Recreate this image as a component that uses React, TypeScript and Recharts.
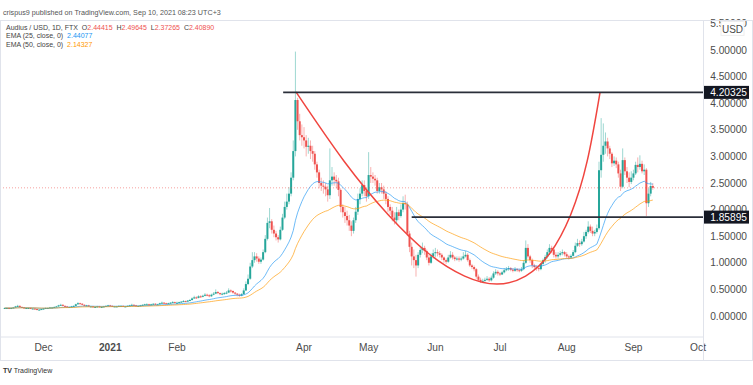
import React from 'react';
import { ComposedChart, Bar, Line, XAxis, YAxis, ReferenceLine } from 'recharts';

// Day index counted from 2020-11-10 (day 0). First candle: 2020-11-13.
const FIRST_DAY = 3;
const FIRST_OPEN = 0.15;

const closeNov = [0.15,0.15,0.14,0.15,0.16,0.18,0.19,0.17,0.16,0.15,0.15,0.15,0.14,0.14,0.13,0.12,0.12,0.13];
const highNov = [0.16,0.16,0.16,0.16,0.17,0.19,0.21,0.2,0.18,0.17,0.16,0.16,0.16,0.15,0.15,0.14,0.13,0.14];
const lowNov = [0.14,0.14,0.13,0.13,0.14,0.15,0.17,0.16,0.15,0.14,0.14,0.14,0.13,0.13,0.12,0.11,0.11,0.12];

const closeDec = [0.14,0.15,0.15,0.16,0.16,0.17,0.18,0.2,0.21,0.19,0.18,0.17,0.17,0.18,0.19,0.22,0.24,0.23,0.21,0.19,0.2,0.18,0.18,0.17,0.17,0.18,0.17,0.17,0.18,0.19,0.2];
const highDec = [0.15,0.16,0.16,0.17,0.17,0.18,0.19,0.21,0.23,0.22,0.2,0.19,0.18,0.19,0.2,0.23,0.26,0.25,0.24,0.22,0.21,0.21,0.19,0.19,0.18,0.19,0.19,0.18,0.19,0.2,0.21];
const lowDec = [0.12,0.13,0.14,0.15,0.15,0.16,0.16,0.17,0.19,0.18,0.17,0.16,0.16,0.16,0.17,0.18,0.21,0.22,0.2,0.18,0.18,0.17,0.17,0.16,0.16,0.16,0.16,0.16,0.16,0.17,0.18];

const closeJan = [0.19,0.18,0.18,0.18,0.19,0.19,0.18,0.18,0.19,0.2,0.21,0.2,0.19,0.19,0.2,0.21,0.22,0.22,0.21,0.22,0.23,0.22,0.22,0.24,0.25,0.24,0.23,0.24,0.25,0.26,0.25];
const highJan = [0.21,0.2,0.19,0.19,0.2,0.2,0.2,0.19,0.2,0.21,0.23,0.22,0.21,0.2,0.21,0.22,0.23,0.24,0.23,0.23,0.24,0.24,0.23,0.25,0.27,0.26,0.25,0.25,0.26,0.28,0.27];
const lowJan = [0.18,0.17,0.17,0.17,0.17,0.18,0.17,0.17,0.17,0.18,0.19,0.19,0.18,0.18,0.18,0.19,0.2,0.21,0.2,0.2,0.21,0.21,0.21,0.21,0.23,0.23,0.22,0.22,0.23,0.24,0.24];

const closeFeb = [0.25,0.26,0.27,0.28,0.27,0.29,0.3,0.33,0.35,0.34,0.37,0.36,0.38,0.4,0.39,0.37,0.4,0.42,0.45,0.43,0.41,0.42,0.43,0.44,0.48,0.47,0.44,0.42];
const highFeb = [0.27,0.27,0.28,0.3,0.29,0.3,0.32,0.35,0.38,0.37,0.39,0.39,0.4,0.43,0.42,0.41,0.42,0.45,0.5,0.47,0.44,0.44,0.45,0.47,0.52,0.5,0.48,0.45];
const lowFeb = [0.23,0.24,0.25,0.26,0.26,0.26,0.28,0.29,0.32,0.32,0.33,0.34,0.35,0.37,0.37,0.35,0.36,0.39,0.41,0.41,0.39,0.39,0.4,0.41,0.43,0.44,0.42,0.39];

const closeMar = [0.4,0.38,0.41,0.48,0.6,0.7,0.93,1.05,1.12,1.08,1.02,1.06,1.2,1.45,1.75,1.78,1.62,1.55,1.48,1.44,1.62,1.85,2.05,2.15,2.3,2.6,3.1,4.06,3.66,3.4,3.36];
const highMar = [0.43,0.42,0.43,0.52,0.65,0.78,1.0,1.2,1.2,1.18,1.12,1.1,1.25,1.52,1.85,2.03,1.82,1.7,1.6,1.52,1.68,1.92,2.15,2.3,2.42,2.7,3.3,4.97,4.1,3.8,3.6];
const lowMar = [0.37,0.36,0.37,0.4,0.47,0.58,0.68,0.9,1.0,1.02,0.98,0.98,1.04,1.18,1.42,1.65,1.55,1.48,1.42,1.38,1.42,1.6,1.82,2.0,2.1,2.25,2.55,3.0,3.5,3.3,3.2];

const closeApr = [3.3,3.18,3.2,3.1,3.05,2.85,2.7,2.5,2.45,2.43,2.38,2.27,2.55,2.62,2.56,2.53,2.37,2.05,1.95,1.88,1.8,1.7,1.6,1.8,1.96,2.2,2.3,2.46,2.35,2.25];
const highApr = [3.55,3.4,3.35,3.3,3.2,3.1,2.9,2.75,2.6,2.55,2.5,2.45,3.15,2.8,2.7,2.65,2.6,2.4,2.1,2.05,1.98,1.9,1.78,1.85,2.05,2.3,2.4,2.55,2.55,2.4];
const lowApr = [3.15,3.0,3.05,2.95,2.9,2.75,2.6,2.4,2.35,2.3,2.25,2.15,2.2,2.45,2.45,2.4,2.25,1.95,1.85,1.75,1.7,1.6,1.5,1.55,1.75,1.9,2.1,2.25,2.25,2.15];

const closeMay = [2.65,2.62,2.58,2.55,2.35,2.42,2.38,2.3,2.2,2.05,1.98,1.85,1.8,1.95,1.88,2.0,2.12,2.1,1.55,1.3,1.12,1.05,0.95,1.15,1.24,1.28,1.22,1.1,1.0,1.12,1.18];
const highMay = [3.08,2.8,2.7,2.65,2.6,2.5,2.5,2.45,2.35,2.25,2.1,2.05,1.95,2.05,2.0,2.1,2.25,2.28,2.15,1.6,1.38,1.25,1.15,1.2,1.3,1.38,1.32,1.25,1.15,1.18,1.25];
const lowMay = [2.2,2.5,2.5,2.45,2.3,2.3,2.3,2.2,2.1,1.95,1.9,1.78,1.72,1.75,1.8,1.85,1.95,2.0,1.5,1.2,0.95,0.9,0.74,0.9,1.1,1.18,1.15,1.05,0.95,0.98,1.08];

const closeJun = [1.2,1.18,1.15,1.1,1.05,1.02,1.1,1.15,1.1,1.07,1.08,1.06,1.08,1.12,1.15,1.05,0.95,0.92,0.88,0.74,0.68,0.65,0.66,0.68,0.7,0.67,0.72,0.8,0.83,0.8];
const highJun = [1.28,1.25,1.22,1.18,1.12,1.08,1.15,1.22,1.2,1.13,1.12,1.12,1.12,1.2,1.22,1.18,1.08,0.98,0.95,0.9,0.78,0.72,0.7,0.72,0.75,0.73,0.76,0.84,0.88,0.86];
const lowJun = [1.1,1.12,1.1,1.05,1.0,0.98,1.0,1.08,1.06,1.03,1.04,1.02,1.03,1.06,1.1,1.02,0.92,0.88,0.84,0.7,0.64,0.62,0.62,0.64,0.66,0.64,0.65,0.7,0.77,0.76];

const closeJul = [0.78,0.82,0.86,0.88,0.9,0.87,0.85,0.88,0.86,0.85,0.88,1.0,1.28,1.12,1.05,0.95,0.92,0.9,0.88,0.98,1.05,1.11,1.2,1.28,1.25,1.15,1.12,1.15,1.18,1.2,1.16];
const highJul = [0.83,0.85,0.9,0.92,0.94,0.92,0.9,0.92,0.9,0.89,0.92,1.05,1.42,1.35,1.15,1.08,0.98,0.95,0.93,1.0,1.08,1.15,1.25,1.35,1.32,1.28,1.2,1.2,1.22,1.25,1.22];
const lowJul = [0.75,0.77,0.8,0.84,0.85,0.84,0.82,0.83,0.83,0.82,0.83,0.86,0.98,1.08,1.0,0.9,0.87,0.85,0.84,0.86,0.95,1.0,1.08,1.15,1.18,1.1,1.08,1.08,1.12,1.14,1.12];

const closeAug = [1.12,1.1,1.13,1.2,1.32,1.37,1.35,1.4,1.5,1.58,1.68,1.6,1.55,1.58,1.65,2.74,3.03,3.2,3.28,3.15,3.05,2.87,2.92,2.85,2.68,2.43,2.93,2.72,2.6,2.52,2.6];
const highAug = [1.2,1.15,1.16,1.24,1.38,1.45,1.42,1.45,1.58,1.62,1.78,1.72,1.68,1.62,1.72,2.9,3.72,3.62,3.45,3.35,3.2,3.08,3.0,2.98,2.9,2.75,3.15,2.98,2.8,2.7,2.72];
const lowAug = [1.08,1.06,1.08,1.12,1.18,1.3,1.3,1.32,1.38,1.45,1.55,1.56,1.5,1.5,1.55,1.62,2.6,2.9,3.05,3.0,2.95,2.8,2.82,2.78,2.6,2.35,2.4,2.65,2.5,2.42,2.48];

const closeSep = [2.68,2.84,2.8,2.86,2.72,2.75,2.12,2.3,2.44415,2.4089];
const highSep = [2.75,2.9,2.98,3.02,2.92,2.85,2.78,2.4,2.52,2.49645];
const lowSep = [2.55,2.65,2.7,2.75,2.68,2.65,1.88,2.05,2.25,2.37265];

const monthTicks = [21, 52, 83, 142, 172, 203, 233, 264, 295, 325];
const monthLabels = ['Dec', '2021', 'Feb', 'Apr', 'May', 'Jun', 'Jul', 'Aug', 'Sep', 'Oct'];
const priceTicks = [0, 0.5, 1, 1.5, 2, 2.5, 3, 3.5, 4, 4.5, 5, 5.5];
const levelPrices = [4.20325, 1.85895];
const levelStartDays = [132.3, 192];
const lastClose = 2.4089;

// Red "cup" curve drawing, points read along it
const curveDays = [138.3, 160.6, 181.2, 199.7, 216.6, 231.6, 244.9, 256.2, 265.8, 273.5, 279.5];
const curvePrices = [4.21, 2.91, 1.9, 1.18, 0.75, 0.6, 0.75, 1.18, 1.9, 2.91, 4.21];

const X_MIN = 0.79;
const X_MAX = 327.3;
const Y_MIN = -0.395;
const Y_MAX = 5.564;

const closes = [...closeNov, ...closeDec, ...closeJan, ...closeFeb, ...closeMar, ...closeApr, ...closeMay, ...closeJun, ...closeJul, ...closeAug, ...closeSep];
const highs = [...highNov, ...highDec, ...highJan, ...highFeb, ...highMar, ...highApr, ...highMay, ...highJun, ...highJul, ...highAug, ...highSep];
const lows = [...lowNov, ...lowDec, ...lowJan, ...lowFeb, ...lowMar, ...lowApr, ...lowMay, ...lowJun, ...lowJul, ...lowAug, ...lowSep];

function ema(values: number[], n: number) {
  const k = 2 / (n + 1);
  const out: number[] = [];
  values.forEach((v, i) => {
    out.push(i === 0 ? v : v * k + out[i - 1] * (1 - k));
  });
  return out;
}
const ema25 = ema(closes, 25);
const ema50 = ema(closes, 50);

const candles = closes.map((c, i) => {
  const o = i === 0 ? FIRST_OPEN : closes[i - 1];
  const h = Math.max(highs[i] ?? c, o, c);
  const l = Math.min(lows[i] ?? c, o, c);
  return { d: FIRST_DAY + i, open: o, close: c, high: h, low: l, range: [l, h], ema25: ema25[i], ema50: ema50[i] };
});

const curveData = curveDays.map((d, i) => ({ d, curve: curvePrices[i] }));

const FONT = '"Liberation Sans", Arial, sans-serif';
const UP = '#26a69a';
const DOWN = '#ef5350';
const BORDER = '#e0e3eb';

const Candle = (props: any) => {
  const { x, y, width, height, payload } = props;
  if (x == null || y == null || !payload) return null;
  const { open, close, high, low } = payload;
  const top = Math.min(y, y + height);
  const h = Math.abs(height);
  const span = high - low || 1;
  const toY = (v: number) => top + ((high - v) / span) * h;
  const cx = x + width / 2;
  const color = close >= open ? UP : DOWN;
  const yo = toY(open);
  const yc = toY(close);
  const bt = Math.min(yo, yc);
  const bh = Math.max(Math.abs(yo - yc), 1);
  return (
    <g>
      <line x1={cx} x2={cx} y1={top} y2={top + h} stroke={color} strokeOpacity={0.45} strokeWidth={1} />
      <rect x={cx - 1} y={bt} width={2} height={bh} fill={color} />
    </g>
  );
};

const PriceTick = (props: any) => {
  const { x, y, payload } = props;
  const v = payload.value;
  const isLevel = levelPrices.includes(v);
  const label = v.toFixed(5);
  if (isLevel) {
    return (
      <g>
        <rect x={x} y={y - 6.5} width={46} height={13} fill="#131722" />
        <text x={x + 44} y={y} dy={3.7} textAnchor="end" fill="#ffffff" fontSize={10.2} fontFamily={FONT}>{label}</text>
      </g>
    );
  }
  return (
    <g>
      <text x={x + 44} y={y} dy={3.7} textAnchor="end" fill="#4c4c4c" fontSize={10.2} fontFamily={FONT}>{label}</text>
      {v === 5.5 && (
        <g>
          <rect x={x + 18} y={y - 2} width={23} height={14} fill="#ffffff" stroke="#eeeeee" />
          <text x={x + 29.5} y={y + 9.5} textAnchor="middle" fill="#4c4c4c" fontSize={10} fontFamily={FONT}>USD</text>
        </g>
      )}
    </g>
  );
};

const MonthTick = (props: any) => {
  const { x, y, payload } = props;
  const idx = monthTicks.indexOf(payload.value);
  const label = monthLabels[idx] ?? '';
  return (
    <text x={x} y={y} dy={14} textAnchor="middle" fill="#4c4c4c" fontSize={10.2} fontFamily={FONT} fontWeight={label === '2021' ? 'bold' : 'normal'}>
      {label}
    </text>
  );
};

export default function App() {
  return (
    <div style={{ position: 'absolute', left: 0, top: 0, width: 753, height: 385, background: '#ffffff', overflow: 'hidden', fontFamily: FONT }}>
      <div style={{ position: 'absolute', left: 3, top: 8, fontSize: 7.2, color: '#555', whiteSpace: 'nowrap' }}>
        crispus9 published on TradingView.com, Sep 10, 2021 08:23 UTC+3
      </div>
      <div style={{ position: 'absolute', left: 0, top: 0 }}>
        <ComposedChart width={753} height={385} data={candles} margin={{ top: 20, right: 0, bottom: 25, left: 0 }}>
          <XAxis
            type="number"
            dataKey="d"
            domain={[X_MIN, X_MAX]}
            ticks={monthTicks}
            interval={0}
            allowDataOverflow
            tick={<MonthTick />}
            tickLine={false}
            tickSize={0}
            tickMargin={0}
            height={23}
            axisLine={{ stroke: BORDER }}
          />
          <YAxis
            orientation="right"
            type="number"
            domain={[Y_MIN, Y_MAX]}
            ticks={[...priceTicks, ...levelPrices]}
            interval={0}
            allowDataOverflow
            tick={<PriceTick />}
            tickLine={false}
            tickSize={0}
            tickMargin={0}
            width={50}
            axisLine={false}
          />
          <ReferenceLine y={lastClose} stroke={DOWN} strokeOpacity={0.55} strokeDasharray="1 2" />
          <Bar dataKey="range" shape={<Candle />} barSize={2} isAnimationActive={false} />
          <Line dataKey="ema25" stroke="#2196f3" strokeOpacity={0.65} strokeWidth={1} dot={false} activeDot={false} isAnimationActive={false} />
          <Line dataKey="ema50" stroke="#ff9800" strokeOpacity={0.65} strokeWidth={1} dot={false} activeDot={false} isAnimationActive={false} />
          <Line data={curveData} dataKey="curve" type="natural" stroke="#f0453f" strokeWidth={1.5} dot={false} activeDot={false} isAnimationActive={false} />
          {levelPrices.map((p, i) => (
            <ReferenceLine
              key={p}
              segment={[{ x: levelStartDays[i], y: p }, { x: X_MAX, y: p }]}
              stroke="#2a2e39"
              strokeWidth={1.6}
              ifOverflow="visible"
            />
          ))}
        </ComposedChart>
      </div>
      <div style={{ position: 'absolute', left: 0, top: 20, width: 753, height: 341, border: `1px solid ${BORDER}`, boxSizing: 'border-box', pointerEvents: 'none' }} />
      <div style={{ position: 'absolute', left: 703, top: 20, width: 1, height: 341, background: BORDER }} />
      <div style={{ position: 'absolute', left: 6, top: 24, fontSize: 7, lineHeight: '8.3px', color: '#444', whiteSpace: 'nowrap' }}>
        <div>
          Audius / USD, 1D, FTX&nbsp; O<span style={{ color: DOWN }}>2.44415</span>&nbsp; H<span style={{ color: DOWN }}>2.49645</span>&nbsp; L<span style={{ color: DOWN }}>2.37265</span>&nbsp; C<span style={{ color: DOWN }}>2.40890</span>
        </div>
        <div>EMA (25, close, 0)&nbsp; <span style={{ color: '#2196f3' }}>2.44077</span></div>
        <div>EMA (50, close, 0)&nbsp; <span style={{ color: '#ff9800' }}>2.14327</span></div>
      </div>
      <div style={{ position: 'absolute', left: 3, top: 367, fontSize: 7, color: '#333', whiteSpace: 'nowrap' }}>
        <b>TV</b> TradingView
      </div>
    </div>
  );
}
